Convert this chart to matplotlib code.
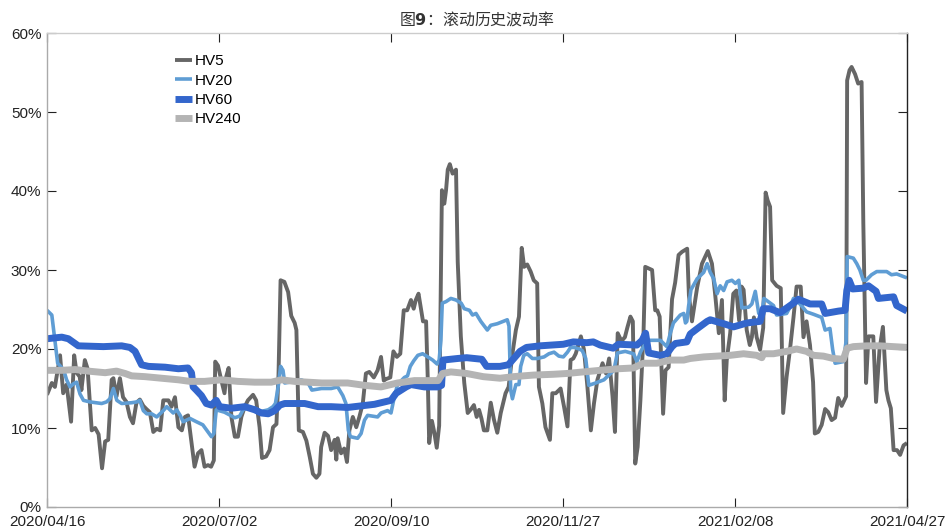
import matplotlib
matplotlib.use("Agg")
import matplotlib.pyplot as plt
from matplotlib.ticker import FuncFormatter

# x = trading-day index (0 = 2020/04/16, 250 = 2021/04/27), values in %
tick_pos = [0, 50, 100, 150, 200, 250]
tick_labels = ["2020/04/16", "2020/07/02", "2020/09/10",
               "2020/11/27", "2021/02/08", "2021/04/27"]

hv5_x = [0, 1.4, 2.3, 3.8, 4.7, 5.7, 7.0, 7.9, 8.6, 9.5, 10.0, 11.0, 11.8, 13.0,
         14.0, 15.0, 16.0, 16.9, 17.8, 18.8, 19.3, 20.2, 21.2, 22.1, 23.1, 24.1,
         25.0, 26.0, 27.0, 28.0, 28.9, 29.9, 30.9, 31.9, 32.9, 33.8, 35.3, 36.2,
         37.2, 38.2, 39.2, 40.1, 41.0, 42.9, 43.9, 44.9, 45.8, 46.8, 47.7, 48.5,
         48.9, 49.7, 50.7, 51.6, 52.1, 52.8, 53.6, 54.6, 55.5, 56.5, 57.5, 58.4,
         59.9, 60.8, 61.8, 62.5, 63.7, 64.7, 65.7, 66.7, 67.3, 67.9, 69.0, 70.1,
         71.0, 72.0, 72.5, 73.2, 74.4, 75.4, 76.4, 77.3, 78.3, 79.2, 79.7, 80.7,
         81.7, 82.6, 83.6, 84.1, 84.5, 85.5, 86.4, 87.2, 87.9, 88.9, 89.9, 90.8,
         91.8, 92.7, 93.7, 95.0, 96.1, 97.1, 97.9, 98.6, 99.8, 100.7, 101.7, 102.7,
         103.7, 104.7, 105.8, 106.6, 107.2, 108.0, 108.7, 109.3, 110.2, 110.7,
         111.1, 111.9, 112.6, 113.3, 114.0, 114.8, 115.5, 116.0, 116.5, 117.1,
         117.9, 118.9, 119.4, 120.3, 121.3, 122.3, 123.3, 124.1, 124.9, 125.6,
         126.3, 127.0, 128.0, 129.0, 129.9, 130.9, 131.9, 133.3, 134.2, 135.3,
         136.3, 137.2, 138.0, 138.7, 139.6, 140.6, 141.5, 142.5, 143.0, 144.0,
         144.9, 146.2, 146.9, 147.9, 149.3, 150.3, 151.3, 152.2, 153.0, 153.7,
         155.2, 156.1, 157.1, 158.1, 159.0, 160.0, 161.5, 162.5, 163.4, 164.4,
         165.1, 165.9, 167.0, 168.0, 168.7, 169.6, 170.3, 171.0, 171.7, 172.5,
         173.4, 173.9, 174.9, 175.9, 176.8, 177.4, 178.1, 179.1, 179.8, 180.7,
         181.2, 181.7, 182.6, 183.6, 184.6, 186.1, 186.6, 187.5, 189.0, 190.4,
         192.1, 193.3, 194.3, 195.3, 196.2, 197.0, 197.6, 198.6, 199.5, 200.4,
         201.2, 201.9, 202.5, 203.4, 204.3, 204.9, 205.5, 206.3, 207.3, 208.2,
         208.9, 209.5, 210.2, 210.8, 212.1, 213.3, 214.0, 215.0, 216.0, 217.0,
         217.9, 219.1, 219.9, 220.8, 221.8, 222.7, 223.2, 224.2, 225.2, 226.2,
         227.1, 228.1, 229.1, 230.0, 231.0, 232.3, 232.6, 233.3, 233.9, 234.9,
         235.8, 236.8, 237.3, 238.1, 238.8, 240.2, 241.0, 242.0, 243.0, 244.0,
         244.6, 245.3, 246.1, 247.1, 248.0, 249.0, 250.0]
hv5_y = [14.2, 15.7, 15.2, 19.2, 14.4, 15.5, 10.8, 19.2, 17.0, 16.5, 14.8, 18.6, 17.5, 9.7,
         10.0, 9.2, 4.9, 8.3, 8.5, 16.1, 16.3, 14.0, 16.3, 13.9, 13.3, 11.4,
         10.6, 13.2, 13.6, 12.8, 12.4, 12.0, 9.5, 9.9, 9.7, 13.5, 13.5, 12.7,
         13.9, 10.1, 9.7, 11.4, 11.6, 5.1, 6.8, 7.2, 5.1, 5.3, 5.1, 5.9,
         18.4, 17.9, 16.0, 14.4, 16.5, 17.6, 11.4, 8.9, 8.9, 11.4, 12.7, 13.5,
         14.2, 13.5, 10.1, 6.2, 6.4, 7.2, 10.1, 10.5, 16.8, 28.7, 28.5, 27.2,
         24.2, 23.3, 22.4, 9.7, 9.5, 8.4, 6.3, 4.2, 3.7, 4.2, 7.6, 9.4,
         9.0, 7.2, 8.5, 6.0, 8.7, 6.8, 7.4, 5.7, 9.7, 11.4, 10.1, 11.4,
         13.1, 16.9, 17.1, 16.4, 17.3, 19.0, 16.0, 16.2, 16.4, 19.7, 19.0, 19.4,
         24.9, 24.9, 26.2, 25.1, 26.2, 27.0, 25.1, 23.5, 23.5, 16.0,
         8.1, 10.9, 9.4, 7.5, 10.3, 40.1, 38.4, 40.1, 42.7, 43.4,
         42.2, 42.7, 31.0, 21.6, 15.7, 11.9, 12.4, 12.9, 11.4, 12.3,
         11.2, 9.7, 9.7, 13.2, 11.1, 9.4, 11.9, 14.4, 15.2, 19.4,
         22.4, 24.1, 32.8, 30.4, 30.7, 29.8, 28.7, 28.3, 15.2, 13.1,
         10.1, 8.5, 14.4, 14.4, 15.0, 12.7, 10.2, 18.6, 18.8, 19.4,
         21.6, 19.9, 15.2, 9.7, 13.1, 16.1, 18.2, 16.9, 18.8, 14.0,
         9.5, 22.0, 21.0, 21.5, 22.7, 24.1, 23.5, 5.5, 7.6, 13.5,
         21.9, 30.4, 30.2, 30.0, 24.9, 24.9, 24.1, 11.8, 17.3, 17.7,
         22.0, 26.3, 28.4, 31.9, 32.3, 32.7, 26.8, 23.5, 27.8, 30.8,
         32.4, 30.8, 26.6, 22.0, 26.2, 13.5, 18.6, 22.0, 27.0, 27.4,
         23.6, 27.9, 27.5, 22.4, 20.5, 21.5, 24.0, 21.5, 19.9, 22.7,
         39.8, 38.8, 38.0, 28.7, 28.0, 27.7, 11.9, 16.5, 20.0, 24.0,
         27.9, 27.9, 21.5, 23.5, 20.5, 15.8, 9.3, 9.5, 10.4, 12.4,
         12.0, 11.0, 11.3, 13.8, 12.8, 14.0, 54.0, 55.3, 55.7, 54.8,
         53.6, 53.8, 36.0, 15.7, 21.6, 21.6, 13.3, 19.9, 22.8, 14.8,
         13.5, 12.5, 7.2, 7.2, 6.6, 7.8, 8.1]

hv20_x = [0, 1.4, 2.3, 3.1, 4.8, 5.7, 6.7, 7.7, 8.6, 9.6, 10.6, 12.5, 15.9, 17.3,
          18.3, 19.3, 20.3, 21.7, 24.6, 26.1, 27.0, 28.0, 29.0, 30.4, 31.9, 33.8,
          34.8, 36.7, 37.7, 38.7, 39.6, 41.6, 43.4, 45.3, 46.3, 47.8, 48.5, 49.2,
          51.6, 54.6, 56.0, 57.0, 58.4, 60.4, 62.3, 64.3, 65.7, 66.4, 67.2, 67.9,
          68.6, 69.1, 72.0, 73.9, 75.9, 77.0, 79.8, 82.6, 84.5, 86.0, 86.9, 87.6,
          88.2, 90.3, 91.3, 92.3, 93.2, 96.1, 97.1, 99.0, 100.0, 100.9, 101.9,
          103.9, 104.8, 105.6, 106.6, 107.8, 109.2, 110.7, 112.1, 113.4, 114.0,
          114.5, 114.9, 116.0, 117.4, 118.9, 120.4, 121.3, 122.8, 123.7, 124.7,
          126.1, 128.0, 129.0, 130.9, 133.8, 134.3, 134.8, 135.3, 136.3, 137.2,
          137.7, 138.6, 139.6, 141.1, 142.5, 144.5, 145.9, 147.4, 148.8, 150.1,
          151.3, 152.2, 153.2, 154.7, 155.6, 156.6, 157.5, 159.5, 161.9, 163.8,
          164.8, 165.8, 168.1, 170.5, 171.5, 172.5, 174.4, 178.3, 180.2, 181.2,
          182.1, 184.1, 185.1, 185.6, 186.0, 186.5, 187.2, 189.0, 190.9, 191.9,
          192.8, 193.8, 194.8, 195.7, 196.7, 197.7, 199.1, 200.1, 201.1, 202.0,
          204.0, 204.9, 205.9, 206.9, 207.9, 208.4, 211.2, 212.1, 215.0, 216.0,
          217.0, 218.9, 220.8, 222.8, 225.2, 226.2, 227.6, 228.4, 229.1, 231.5,
          232.3, 232.6, 234.4, 235.4, 236.3, 237.3, 238.1, 239.7, 241.2, 244.1,
          245.5, 247.0, 250.0]
hv20_y = [24.9, 24.3, 21.1, 18.2, 17.4, 16.1, 15.2, 15.6, 15.8, 14.3, 13.5, 13.3, 13.1, 13.3,
          13.7, 15.0, 13.5, 13.1, 13.2, 13.3, 13.5, 12.2, 11.8, 11.8, 11.4, 12.2,
          12.7, 11.9, 12.3, 11.6, 10.8, 11.2, 10.8, 10.4, 9.8, 8.9, 9.3, 12.3,
          12.0, 11.3, 11.5, 12.3, 12.7, 12.5, 12.1, 12.3, 12.7, 13.1, 15.2, 17.8,
          17.3, 15.7, 15.9, 16.1, 15.7, 14.8, 15.0, 15.0, 15.2, 14.1, 13.1, 9.7,
          8.9, 8.7, 9.3, 11.0, 11.6, 11.4, 11.9, 12.2, 11.9, 13.8, 15.5,
          16.4, 16.6, 17.8, 18.5, 19.2, 19.4, 19.0, 18.6, 18.1, 18.6,
          21.1, 25.8, 26.0, 26.4, 26.2, 25.8, 25.1, 24.9, 24.3, 24.5,
          23.5, 22.4, 23.0, 23.2, 23.7, 22.9, 14.8, 13.7, 15.5, 15.5,
          17.8, 19.2, 19.4, 18.8, 18.8, 19.0, 19.4, 19.6, 19.1, 19.0,
          19.6, 20.2, 20.2, 20.0, 19.8, 18.8, 15.4, 15.7, 16.1, 16.9,
          17.3, 19.5, 19.7, 19.4, 18.4, 19.6, 21.1, 21.1, 20.3, 22.0,
          23.3, 24.3, 24.5, 23.3, 23.5, 25.4, 27.5, 28.9, 29.7, 30.8,
          29.7, 28.9, 27.0, 28.0, 27.4, 28.5, 28.7, 28.3, 28.7, 25.2,
          25.3, 25.7, 27.3, 24.5, 24.9, 26.4, 25.5, 24.3, 24.5, 25.3,
          26.4, 25.7, 24.7, 24.4, 24.0, 22.4, 22.6, 19.9, 18.2, 18.4,
          21.0, 31.7, 31.5, 30.8, 30.0, 28.7, 28.7, 29.4, 29.8, 29.8,
          29.4, 29.5, 29.0]

hv60_x = [0, 4.3, 6.2, 9.1, 16.4, 21.7, 24.1, 25.6, 27.5, 29.5, 34.3, 38.2, 41.0,
          42.0, 42.5, 43.4, 44.9, 46.3, 47.8, 49.2, 50.2, 53.6, 57.5, 60.4, 62.3,
          64.3, 66.2, 67.7, 69.1, 74.9, 78.8, 82.6, 87.4, 91.3, 95.2, 98.1, 100.0,
          101.5, 104.4, 105.8, 109.7, 113.6, 114.7, 115.1, 119.4, 122.0, 126.4,
          127.8, 131.7, 134.1, 137.5, 139.4, 143.3, 150.1, 153.0, 156.9, 158.8,
          160.8, 164.6, 166.1, 171.5, 173.0, 174.0, 174.9, 178.3, 180.2, 181.7,
          182.7, 186.0, 187.0, 189.4, 191.9, 192.8, 196.7, 199.6, 203.5, 207.3,
          208.2, 210.2, 213.1, 217.0, 218.4, 221.8, 225.2, 226.2, 230.1, 232.0,
          232.5, 233.2, 234.2, 237.3, 238.8, 241.0, 241.7, 246.1, 247.0, 250.0]
hv60_y = [21.3, 21.5, 21.3, 20.4, 20.3, 20.4, 20.2, 19.7, 18.0, 17.8, 17.7, 17.5, 17.6,
          17.0, 15.2, 14.8, 14.1, 13.1, 12.9, 13.5, 12.7, 12.5, 12.7, 12.3, 11.9,
          11.8, 12.2, 12.9, 13.1, 13.1, 12.7, 12.7, 12.6, 12.8, 13.0, 13.3, 13.5,
          14.4, 15.2, 15.5, 15.2, 15.2, 15.4, 18.6, 18.8, 18.9, 18.7,
          17.8, 17.8, 18.0, 19.7, 20.2, 20.4, 20.6, 20.9, 20.8, 20.9,
          20.5, 20.1, 20.6, 20.5, 21.1, 22.0, 19.5, 19.2, 19.4, 20.3,
          20.7, 20.9, 21.9, 22.7, 23.5, 23.7, 23.2, 22.8, 23.3, 23.5,
          25.1, 25.1, 24.6, 25.8, 26.3, 25.7, 25.7, 24.5, 24.8, 24.9,
          27.4, 28.7, 27.6, 27.7, 28.0, 27.3, 26.4, 26.6, 25.5, 24.8]

hv240_x = [0, 4.3, 8.2, 12.0, 16.9, 20.2, 22.7, 24.6, 28.5, 33.3, 38.2, 41.6, 45.8,
           50.7, 55.5, 60.4, 65.2, 68.1, 72.0, 75.9, 79.8, 83.1, 87.4, 92.3, 97.1,
           101.9, 106.8, 111.6, 113.7, 115.0, 117.4, 122.0, 126.8, 131.7, 135.6,
           141.4, 147.2, 151.1, 155.9, 160.8, 166.1, 170.5, 173.4, 177.3, 181.2,
           185.1, 187.0, 190.9, 194.8, 198.6, 202.5, 206.3, 207.8, 208.2, 211.2,
           215.0, 217.9, 220.8, 222.8, 225.7, 228.6, 231.5, 232.6, 234.4, 238.3,
           242.1, 246.0, 250.0]
hv240_y = [17.3, 17.3, 17.4, 17.2, 17.0, 17.2, 16.9, 16.6, 16.5, 16.3, 16.1, 15.9, 15.9,
           16.1, 15.9, 15.8, 15.8, 16.1, 15.9, 15.8, 15.7, 15.7, 15.7, 15.4, 15.2,
           15.7, 16.0, 16.0, 16.0, 16.9, 17.1, 16.9, 16.5, 16.3, 16.5,
           16.7, 16.8, 16.9, 17.1, 17.3, 17.5, 17.6, 18.2, 18.2, 18.6,
           18.6, 18.8, 19.0, 19.1, 19.2, 19.4, 19.2, 18.9, 19.4, 19.4,
           19.7, 20.0, 19.7, 19.2, 19.1, 18.8, 18.7, 20.1, 20.3, 20.4,
           20.4, 20.3, 20.2]

plt.rcParams['font.family'] = ['Liberation Sans', 'Noto Sans CJK SC', 'DejaVu Sans']
plt.rcParams['lines.solid_capstyle'] = 'butt'

fig = plt.figure(figsize=(9.46, 5.28), dpi=100)
ax = fig.add_axes([47 / 946, 1 - 507 / 528, 860 / 946, 474 / 528])

ax.plot(hv5_x, hv5_y, color='#666666', lw=2.8, label='HV5')
ax.plot(hv20_x, hv20_y, color='#5f9dd4', lw=2.6, label='HV20')
ax.plot(hv60_x, hv60_y, color='#3366cc', lw=5, label='HV60')
ax.plot(hv240_x, hv240_y, color='#b4b4b4', lw=5, label='HV240')

ax.set_xlim(0, 250)
ax.set_ylim(0, 60)
ax.set_xticks(tick_pos)
ax.set_xticklabels(tick_labels)
ax.set_yticks(range(0, 61, 10))
ax.yaxis.set_major_formatter(FuncFormatter(lambda v, p: f"{int(v)}%"))

ax.tick_params(direction='in', length=6.5, width=0.8, color='#222222',
               labelsize=11, labelcolor='#222222', top=True, right=True)
ax.tick_params(axis='x', pad=6)
ax.tick_params(axis='y', pad=4)

ax.spines['top'].set_color('#cccccc')
ax.spines['left'].set_color('#aaaaaa')
ax.spines['bottom'].set_color('#aaaaaa')
ax.spines['right'].set_color('#222222')
for s in ax.spines.values():
    s.set_linewidth(1.0)

ax.set_title('图$\\mathbf{9}$：滚动历史波动率', fontsize=11.5, color='#333333',
             pad=6, fontfamily=['Noto Sans CJK SC', 'DejaVu Sans'])

ax.legend(loc='upper left', bbox_to_anchor=(0.149, 0.955), frameon=False,
          fontsize=11, handlelength=1.1, handletextpad=0.2, labelspacing=0.35,
          borderpad=0, borderaxespad=0)

fig.savefig('out.png', dpi=100)
